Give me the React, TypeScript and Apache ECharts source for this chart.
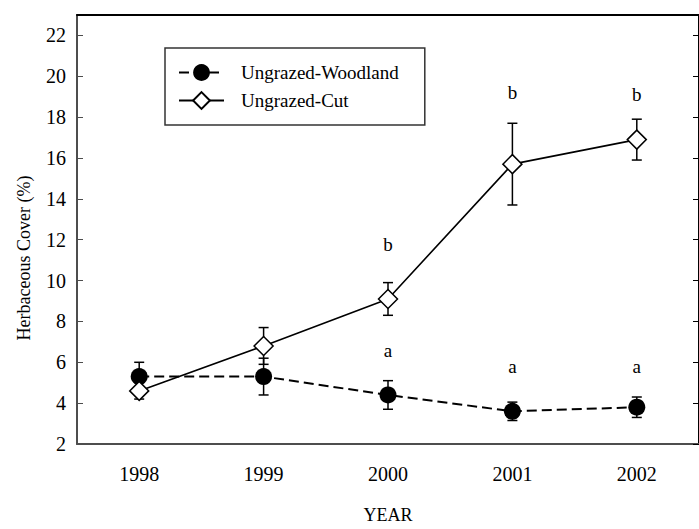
import React, { useEffect, useRef } from 'react';
import * as echarts from 'echarts';

const years = ['1998', '1999', '2000', '2001', '2002'];
const woodlandMean = [5.3, 5.3, 4.4, 3.6, 3.8];
const woodlandErr = [0.7, 0.9, 0.7, 0.45, 0.5];
const cutMean = [4.6, 6.8, 9.1, 15.7, 16.9];
const cutErr = [0.4, 0.9, 0.8, 2.0, 1.0];
const letterIdx = [2, 3, 4, 2, 3, 4];
const letterVal = [11.75, 19.2, 19.1, 6.57, 5.8, 5.8];
const letterText = ['b', 'b', 'b', 'a', 'a', 'a'];
const yMin = 2;
const yMax = 23;
const yInterval = 2;

const FONT = '"Liberation Serif", "Times New Roman", Times, serif';

export default function App() {
  const ref = useRef<HTMLDivElement>(null);
  useEffect(() => {
    if (!ref.current) return;
    const chart = echarts.init(ref.current, null, { renderer: 'svg' });
    const errData = [
      ...woodlandMean.map((m, i) => [i, m - woodlandErr[i], m + woodlandErr[i]]),
      ...cutMean.map((m, i) => [i, m - cutErr[i], m + cutErr[i]]),
    ];
    const letterData = letterIdx.map((i, k) => [i, letterVal[k]]);
    const gray = '#4d4d4d';
    chart.setOption({
      animation: false,
      textStyle: { fontFamily: FONT },
      grid: { left: 77, top: 15, width: 625, height: 437 },
      legend: {
        left: 165,
        top: 48,
        orient: 'vertical',
        data: ['Ungrazed-Woodland', 'Ungrazed-Cut'],
        itemWidth: 45,
        itemHeight: 21,
        itemGap: 9,
        padding: [15, 26, 15, 13],
        borderColor: '#333',
        borderWidth: 1.5,
        textStyle: { fontFamily: FONT, fontSize: 19, color: '#000', padding: [0, 0, 0, 12] },
      },
      xAxis: [
        {
          type: 'category',
          data: years,
          position: 'bottom',
          name: 'YEAR',
          nameLocation: 'middle',
          nameGap: 62,
          nameTextStyle: { fontFamily: FONT, fontSize: 18, color: '#000' },
          axisLine: { lineStyle: { color: gray, width: 2 } },
          axisTick: { alignWithLabel: true, length: 6, lineStyle: { color: gray, width: 1 } },
          axisLabel: { fontFamily: FONT, fontSize: 20, color: '#000', margin: 20 },
          splitLine: { show: false },
        },
        {
          type: 'category',
          data: years,
          position: 'top',
          axisLine: { lineStyle: { color: '#000', width: 2 } },
          axisTick: { show: false },
          axisLabel: { show: false },
          splitLine: { show: false },
        },
      ],
      yAxis: [
        {
          type: 'value',
          min: yMin,
          max: yMax,
          interval: yInterval,
          position: 'left',
          axisLine: { show: true, lineStyle: { color: gray, width: 2 } },
          axisTick: { show: true, inside: true, length: 6, lineStyle: { color: gray, width: 1 } },
          axisLabel: {
            fontFamily: FONT,
            fontSize: 20,
            color: '#000',
            margin: 11,
            showMaxLabel: false,
            formatter: (v: number) => (v > 22 ? '' : String(v)),
          },
          splitLine: { show: false },
        },
        {
          type: 'value',
          min: yMin,
          max: yMax,
          interval: yInterval,
          position: 'right',
          axisLine: { show: true, lineStyle: { color: '#000', width: 2 } },
          axisTick: { show: true, inside: true, length: 6, lineStyle: { color: '#000', width: 1 } },
          axisLabel: { show: false },
          splitLine: { show: false },
        },
      ],
      graphic: [
        {
          type: 'text',
          x: 24,
          y: 258,
          rotation: Math.PI / 2,
          style: {
            text: 'Herbaceous Cover (%)',
            font: `18px ${FONT}`,
            fill: '#000',
            align: 'center',
            verticalAlign: 'middle',
          },
        },
      ],
      series: [
        {
          type: 'custom',
          name: 'err',
          z: 1,
          data: errData,
          encode: { x: 0, y: [1, 2] },
          renderItem: (params: any, api: any) => {
            const i = api.value(0);
            const lo = api.coord([i, api.value(1)]);
            const hi = api.coord([i, api.value(2)]);
            const w = 5;
            const style = { stroke: '#000', lineWidth: 1.5 };
            return {
              type: 'group',
              children: [
                { type: 'line', shape: { x1: lo[0], y1: lo[1], x2: hi[0], y2: hi[1] }, style },
                { type: 'line', shape: { x1: lo[0] - w, y1: lo[1], x2: lo[0] + w, y2: lo[1] }, style },
                { type: 'line', shape: { x1: hi[0] - w, y1: hi[1], x2: hi[0] + w, y2: hi[1] }, style },
              ],
            };
          },
        },
        {
          type: 'line',
          name: 'Ungrazed-Woodland',
          z: 3,
          data: woodlandMean,
          symbol: 'circle',
          symbolSize: 17,
          itemStyle: { color: '#000' },
          lineStyle: { color: '#000', width: 2, type: [10, 5] },
        },
        {
          type: 'line',
          name: 'Ungrazed-Cut',
          z: 4,
          data: cutMean,
          symbol: 'diamond',
          symbolSize: 19,
          itemStyle: { color: '#fff', borderColor: '#000', borderWidth: 1.5 },
          lineStyle: { color: '#000', width: 1.6 },
        },
        {
          type: 'custom',
          name: 'letters',
          z: 5,
          data: letterData,
          encode: { x: 0, y: 1 },
          renderItem: (params: any, api: any) => {
            const p = api.coord([api.value(0), api.value(1)]);
            return {
              type: 'text',
              x: p[0],
              y: p[1],
              style: {
                text: letterText[params.dataIndex],
                font: `19px ${FONT}`,
                fill: '#000',
                align: 'center',
                verticalAlign: 'middle',
              },
            };
          },
        },
      ],
    });
    return () => chart.dispose();
  }, []);
  return <div ref={ref} style={{ position: 'absolute', left: 0, top: 0, width: 699, height: 529 }} />;
}
